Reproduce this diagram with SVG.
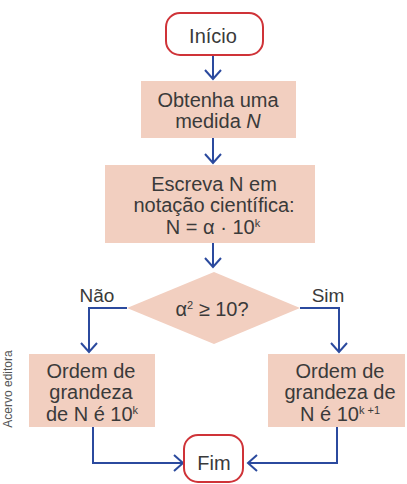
<svg xmlns="http://www.w3.org/2000/svg" width="407" height="484" viewBox="0 0 407 484">
<defs>
<style>
.t{font-family:"Liberation Sans",Arial,sans-serif;font-size:20px;fill:#3a3a3a;text-anchor:middle}
.box{fill:#f2cfc0}
.term{fill:#fff;stroke:#cf3338;stroke-width:2}
.c{fill:none;stroke:#2b4a9e;stroke-width:2}
.sup{font-size:11px}
</style>
<marker id="arr" viewBox="0 0 20 20" refX="18" refY="10" markerWidth="20" markerHeight="20" markerUnits="userSpaceOnUse" orient="auto">
<path d="M9,2 L18,10 L9,18" fill="none" stroke="#2b4a9e" stroke-width="2"/>
</marker>
</defs>
<rect width="407" height="484" fill="#fff"/>
<g id="connectors">
<path class="c" d="M213,55 V79" marker-end="url(#arr)"/>
<path class="c" d="M213,138 V163" marker-end="url(#arr)"/>
<path class="c" d="M213,243 V267" marker-end="url(#arr)"/>
<path class="c" d="M127,308 H89 V352" marker-end="url(#arr)"/>
<path class="c" d="M300,308 H339 V352" marker-end="url(#arr)"/>
<path class="c" d="M93,427 V463 H183" marker-end="url(#arr)"/>
<path class="c" d="M337,427 V463 H248" marker-end="url(#arr)"/>
<text class="t" x="97" y="302" style="font-size:19px">Não</text>
<text class="t" x="328" y="302" style="font-size:19px">Sim</text>
</g>
<g id="inicio">
<rect class="term" x="166" y="13" width="97" height="42" rx="14"/>
<text class="t" x="213" y="43">Início</text>
</g>
<g id="obtenha">
<rect class="box" x="141" y="81" width="155" height="57"/>
<text class="t" x="218" y="107">Obtenha uma</text>
<text class="t" x="218" y="128">medida <tspan font-style="italic">N</tspan></text>
</g>
<g id="escreva">
<rect class="box" x="105" y="165" width="210" height="78"/>
<text class="t" x="214" y="191">Escreva N em</text>
<text class="t" x="214" y="212">notação científica:</text>
<text class="t" x="213" y="234">N = α · 10<tspan class="sup" dy="-7">k</tspan></text>
</g>
<g id="decisao">
<polygon class="box" points="214,272 300,308 214,344 127,308"/>
<text class="t" x="212" y="316">α<tspan class="sup" dy="-7">2</tspan><tspan dy="7"> ≥ 10?</tspan></text>
</g>
<g id="nao">
<rect class="box" x="29" y="354" width="126" height="73"/>
<text class="t" x="91" y="378">Ordem de</text>
<text class="t" x="91" y="399">grandeza</text>
<text class="t" x="92" y="421">de N é 10<tspan class="sup" dy="-7">k</tspan></text>
</g>
<g id="sim">
<rect class="box" x="268" y="354" width="137" height="73"/>
<text class="t" x="340" y="378">Ordem de</text>
<text class="t" x="340" y="399">grandeza de</text>
<text class="t" x="340" y="421">N é 10<tspan class="sup" dy="-7">k +1</tspan></text>
</g>
<g id="fim">
<rect class="term" x="184" y="435" width="59" height="47" rx="14"/>
<text class="t" x="214" y="470">Fim</text>
</g>
<text x="12" y="389" transform="rotate(-90 12 389)" style="font-family:'Liberation Sans',Arial,sans-serif;font-size:12px;fill:#555;text-anchor:middle">Acervo editora</text>
</svg>
